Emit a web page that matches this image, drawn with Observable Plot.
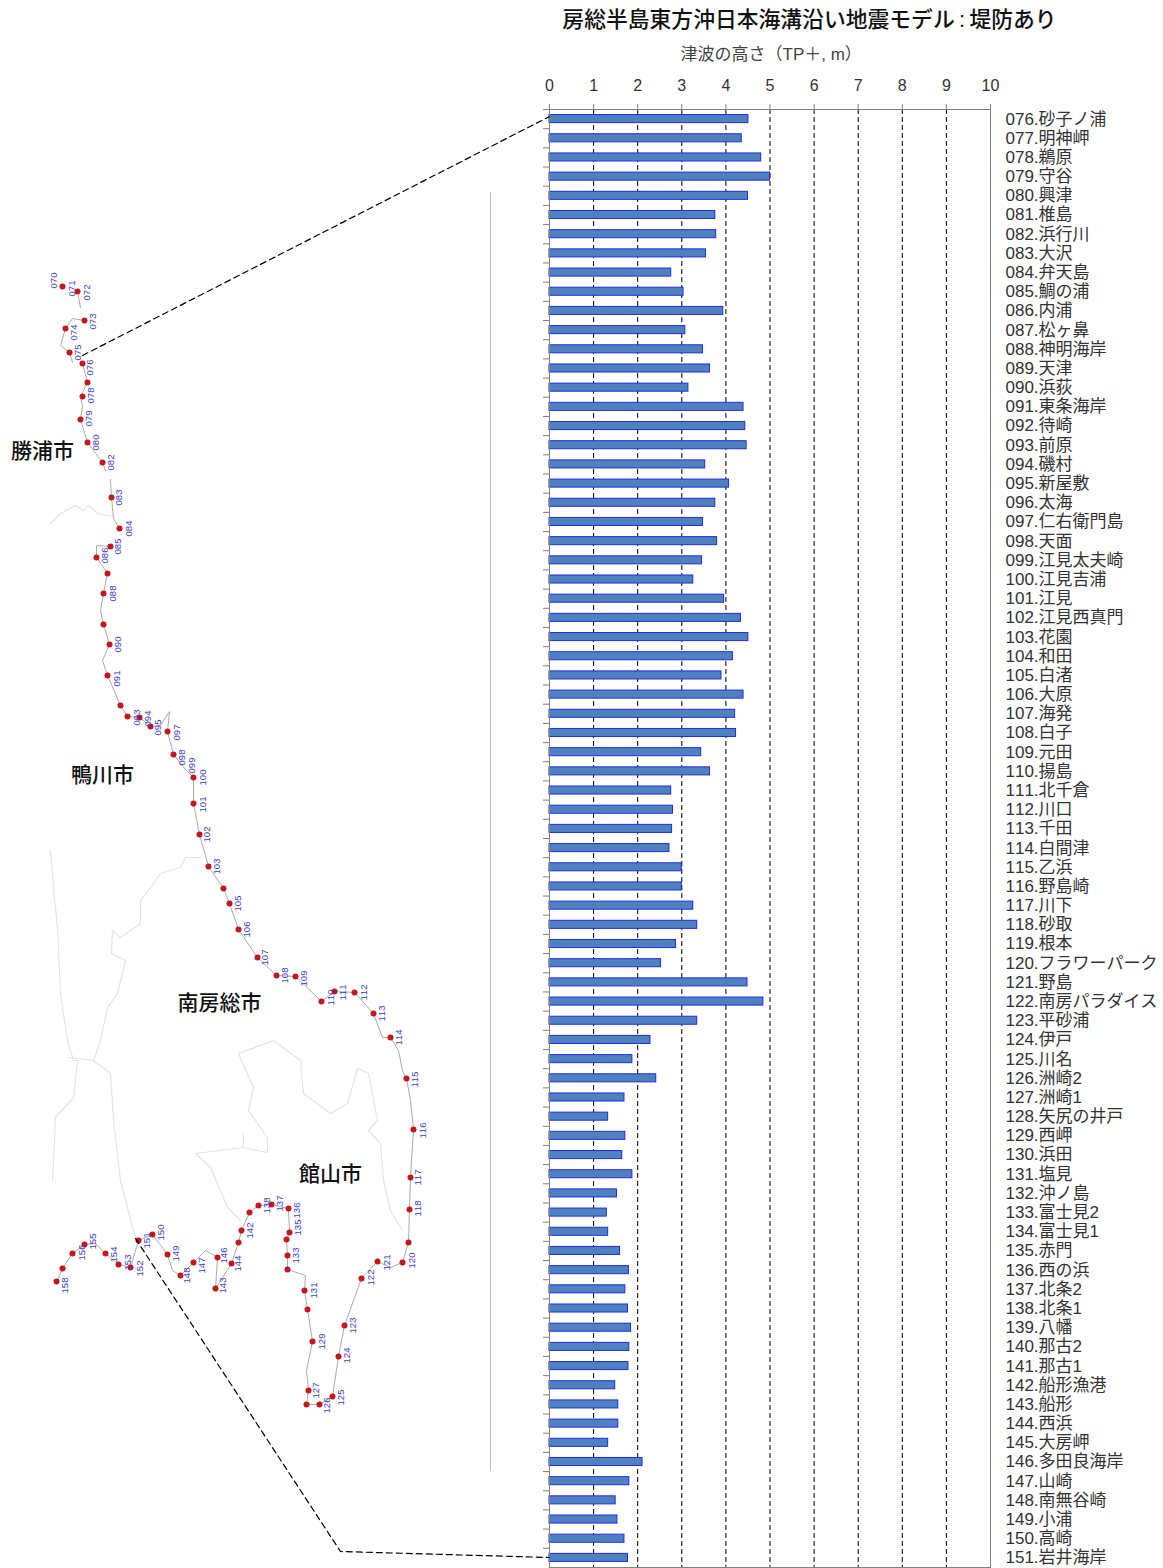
<!DOCTYPE html>
<html lang="ja">
<head>
<meta charset="utf-8">
<script src="https://cdn.jsdelivr.net/npm/d3@7"></script>
<script src="https://cdn.jsdelivr.net/npm/@observablehq/plot@0.6"></script>
<style>
html,body{margin:0;padding:0;background:#fff}
#page{position:relative;width:1163px;height:1568px;overflow:hidden}
#page svg{position:absolute;left:0;top:0;background:transparent}
#page svg text{font-kerning:none}
</style>
</head>
<body>
<div id="page"></div>
<script>
const CHART_TITLE = "房総半島東方沖日本海溝沿い地震モデル\u2009:\u2009堤防あり";
const AXIS_TITLE = "津波の高さ\uFF08TP\uFF0B, m\uFF09";
const FONT = "'Liberation Sans','Noto Sans CJK JP',sans-serif";

const names = ["076.砂子ノ浦","077.明神岬","078.鵜原","079.守谷","080.興津","081.椎島","082.浜行川","083.大沢","084.弁天島","085.鯛の浦","086.内浦","087.松ヶ鼻","088.神明海岸","089.天津","090.浜荻","091.東条海岸","092.待崎","093.前原","094.磯村","095.新屋敷","096.太海","097.仁右衛門島","098.天面","099.江見太夫崎","100.江見吉浦","101.江見","102.江見西真門","103.花園","104.和田","105.白渚","106.大原","107.海発","108.白子","109.元田","110.揚島","111.北千倉","112.川口","113.千田","114.白間津","115.乙浜","116.野島崎","117.川下","118.砂取","119.根本","120.フラワーパーク","121.野島","122.南房パラダイス","123.平砂浦","124.伊戸","125.川名","126.洲崎2","127.洲崎1","128.矢尻の井戸","129.西岬","130.浜田","131.塩見","132.沖ノ島","133.富士見2","134.富士見1","135.赤門","136.西の浜","137.北条2","138.北条1","139.八幡","140.那古2","141.那古1","142.船形漁港","143.船形","144.西浜","145.大房岬","146.多田良海岸","147.山崎","148.南無谷崎","149.小浦","150.高崎","151.岩井海岸"];
const heights = [4.51,4.36,4.8,5.0,4.5,3.76,3.78,3.55,2.76,3.04,3.94,3.08,3.48,3.64,3.15,4.4,4.44,4.47,3.53,4.07,3.76,3.48,3.8,3.46,3.26,3.96,4.34,4.51,4.16,3.9,4.4,4.21,4.23,3.44,3.64,2.76,2.8,2.78,2.72,3.0,3.0,3.26,3.35,2.87,2.53,4.49,4.85,3.35,2.29,1.88,2.42,1.7,1.33,1.72,1.65,1.88,1.53,1.3,1.33,1.6,1.8,1.72,1.78,1.85,1.81,1.79,1.49,1.56,1.56,1.33,2.11,1.81,1.5,1.54,1.7,1.78];
const xTicks = [0,1,2,3,4,5,6,7,8,9,10];

// map: points, in the map's own units
const siteX = [62,77,84,65,69,82,87,82,80,87,102,111,119,110,96,107,103,103,109,107,120,127,139,150,167,173,193,193,199,208,223,229,238,257,276,295,321,334,354,373,390,406,413,410,409,408,402,377,361,344,338,332,319,306,308,312,307,304,287,287,286,289,288,271,258,249,241,238,231,215,217,193,180,167,152,138,130,118,105,84,72,62,56];
const siteY = [286,291,320,328,352,363,382,396,419,442,462,497,528,546,557,573,593,624,644,675,705,716,717,726,731,754,777,803,834,866,888,903,929,957,975,976,1001,991,992,1013,1037,1078,1129,1177,1209,1242,1262,1261,1278,1325,1356,1396,1404,1404,1390,1341,1309,1290,1269,1255,1239,1232,1208,1204,1205,1212,1230,1242,1263,1288,1257,1262,1275,1254,1234,1240,1267,1264,1253,1244,1253,1268,1281];

const tagText = ["070","071","072","073","074","075","076","078","079","080","082","083","084","085","086","088","090","091","093","094","095","097","098","099","100","101","102","103","105","106","107","108","109","110","111","112","113","114","115","116","117","118","120","121","122","123","124","125","126","127","129","131","133","135","136","137","138","142","144","143","146","147","148","149","150","151","152","153","154","155","156","158"];
const tagX = [53,71,86,92,73,77,89,90,88,95,110,118,128,117,104,112,117,116,136,147,157,176,181,191,202,202,206,216,237,246,264,284,303,330,342,363,381,398,414,422,417,417,411,386,370,352,346,340,326,315,321,313,295,297,296,279,266,249,237,222,223,201,186,175,160,146,139,127,113,92,81,64];
const tagY = [280,288,292,321,332,352,367,395,418,442,462,497,528,546,555,593,644,678,717,718,727,732,757,765,777,804,834,866,903,929,957,975,978,997,992,992,1013,1037,1079,1130,1177,1208,1260,1262,1277,1325,1355,1397,1405,1390,1341,1290,1255,1227,1210,1203,1205,1230,1263,1285,1255,1265,1275,1253,1232,1240,1268,1262,1254,1241,1252,1285];

const coastSeg = [
  [[77,291],[80,307]],
  [[84,320],[72,318],[65,328],[60,345],[69,352],[72,362]],
  [[82,363],[87,382],[80,396],[82,406],[80,419],[87,442],[102,462],[105,470]],
  [[110,479],[111,497],[113,518],[119,528]],
  [[110,546],[96,545],[96,557],[107,573],[103,593],[100,610],[103,624],[109,644],[102,660],[107,675],[120,705],[127,716],[139,717],[150,726],[160,725],[169,711],[167,731],[173,754],[186,770],[193,777],[193,803],[199,834],[208,866],[223,888],[229,903],[238,929],[257,957],[276,975],[295,976],[321,1001],[334,991],[354,992],[373,1013],[382,1037],[390,1037],[398,1050],[402,1070],[406,1078],[410,1100],[413,1129],[410,1177],[409,1209],[408,1242],[402,1262],[390,1267],[377,1261],[361,1278],[344,1325],[338,1356],[332,1396],[319,1404],[306,1404],[308,1390],[306,1370],[312,1341],[307,1309],[304,1290],[305,1275],[287,1269],[287,1255],[286,1239],[289,1232],[288,1208],[271,1204],[258,1205],[249,1212],[241,1230],[238,1242],[231,1263],[215,1288],[217,1257],[205,1250],[193,1262],[180,1275],[172,1270],[167,1254],[152,1234],[138,1240],[130,1267],[118,1264],[105,1253],[95,1243],[84,1244],[72,1253],[62,1268],[56,1281]]
];
const borderSeg = [
  [[50,523],[60,513],[75,505],[83,510],[88,505],[97,513],[112,516]],
  [[200,857],[185,857],[180,867],[160,873],[150,887],[140,900],[140,923],[120,937],[112,930],[111,953],[125,960],[117,993],[107,1007],[100,1040],[93,1060],[110,1073],[113,1120],[120,1180],[132,1227],[137,1240]],
  [[50,850],[53,887],[57,927],[60,993],[67,1040],[73,1060],[77,1060],[73,1097],[55,1117],[52,1180]],
  [[68,1057],[93,1060]],
  [[238,1053],[273,1040],[300,1060],[303,1093],[330,1113],[347,1103],[357,1068],[368,1073],[377,1120],[368,1130],[380,1143],[383,1180],[390,1210],[402,1230]],
  [[238,1053],[253,1087],[248,1110],[267,1137],[267,1152],[243,1147],[243,1133]],
  [[243,1147],[195,1153],[210,1167],[227,1207],[240,1220]]
];
const leaders = [
  [[82,355],[549,116]],
  [[135,1238],[340,1551],[549,1557]]
];
const cities = ["勝浦市","鴨川市","南房総市","館山市"];
const cityX = [42,102,219,330];
const cityY = [451,775,1003,1174];
const paneRuleX = [490];
const paneRuleY = [192,1471];
const titleAt = [[809,20]];
const axisTitleAt = [[680,54]];

const table = names.map((name,i)=>({name,value:heights[i]}));
const toRows = segs => segs.flatMap((s,id)=>s.map(([x,y])=>({x,y,id})));

const chart = Plot.plot({
  width:1163, height:1568,
  marginLeft:549, marginRight:173, marginTop:109, marginBottom:1,
  style:{fontFamily:FONT, background:"transparent"},
  x:{domain:[0,10], axis:null},
  y:{domain:names, paddingInner:0.58, paddingOuter:0.29, round:false, axis:null},
  marks:[
    Plot.ruleX(xTicks.slice(1,-1),{stroke:"#000",strokeWidth:1,strokeDasharray:"5,3"}),
    Plot.barX(table,{x:"value",y:"name",fill:"#4f81bd",stroke:"#1f2bf0",strokeWidth:1}),
    Plot.frame({stroke:"#808080",strokeWidth:1}),
    Plot.axisX({anchor:"top",ticks:xTicks,tickSize:6,tickPadding:13,fontSize:16,stroke:"#808080",color:"#333",label:null,tickFormat:d=>String(d)}),
    Plot.axisY({anchor:"left",tickSize:6,stroke:"#808080",tickFormat:null,dy:-9.6,label:null}),
    Plot.axisY({anchor:"right",tickSize:0,tickPadding:15,fontSize:17,color:"#333",textAnchor:"start",label:null})
  ]
});

const overlay = Plot.plot({
  width:1163, height:1568, margin:0,
  style:{fontFamily:FONT, background:"transparent"},
  x:{domain:[0,1163], axis:null},
  y:{domain:[1568,0], axis:null},
  marks:[
    Plot.ruleX(paneRuleX,{y1:paneRuleY[0],y2:paneRuleY[1],stroke:"#bdbdbd",strokeWidth:1}),
    Plot.line(toRows(borderSeg),{x:"x",y:"y",z:"id",stroke:"#e4e4e4",strokeWidth:1.2}),
    Plot.line(toRows(coastSeg),{x:"x",y:"y",z:"id",stroke:"#a6aea8",strokeWidth:1}),
    Plot.dot(siteX.map((x,i)=>({x,y:siteY[i]})),{x:"x",y:"y",r:3,fill:"#c4161c",stroke:"none"}),
    Plot.text(tagText,{x:(d,i)=>tagX[i],y:(d,i)=>tagY[i],text:d=>d,rotate:-90,fontSize:9.5,fill:"#3b3bd0"}),
    Plot.line(toRows(leaders),{x:"x",y:"y",z:"id",stroke:"#000",strokeWidth:1.2,strokeDasharray:"6,4"}),
    Plot.text(cities,{x:(d,i)=>cityX[i],y:(d,i)=>cityY[i],text:d=>d,fontSize:21,fontWeight:500,fill:"#111"}),
    Plot.text([CHART_TITLE],{x:titleAt[0][0],y:titleAt[0][1],text:d=>d,fontSize:21.8,fontWeight:500,fill:"#111"}),
    Plot.text([AXIS_TITLE],{x:axisTitleAt[0][0],y:axisTitleAt[0][1],text:d=>d,textAnchor:"start",fontSize:17,fill:"#444"})
  ]
});
const page = document.getElementById("page");
page.append(chart, overlay);
</script>
</body>
</html>
